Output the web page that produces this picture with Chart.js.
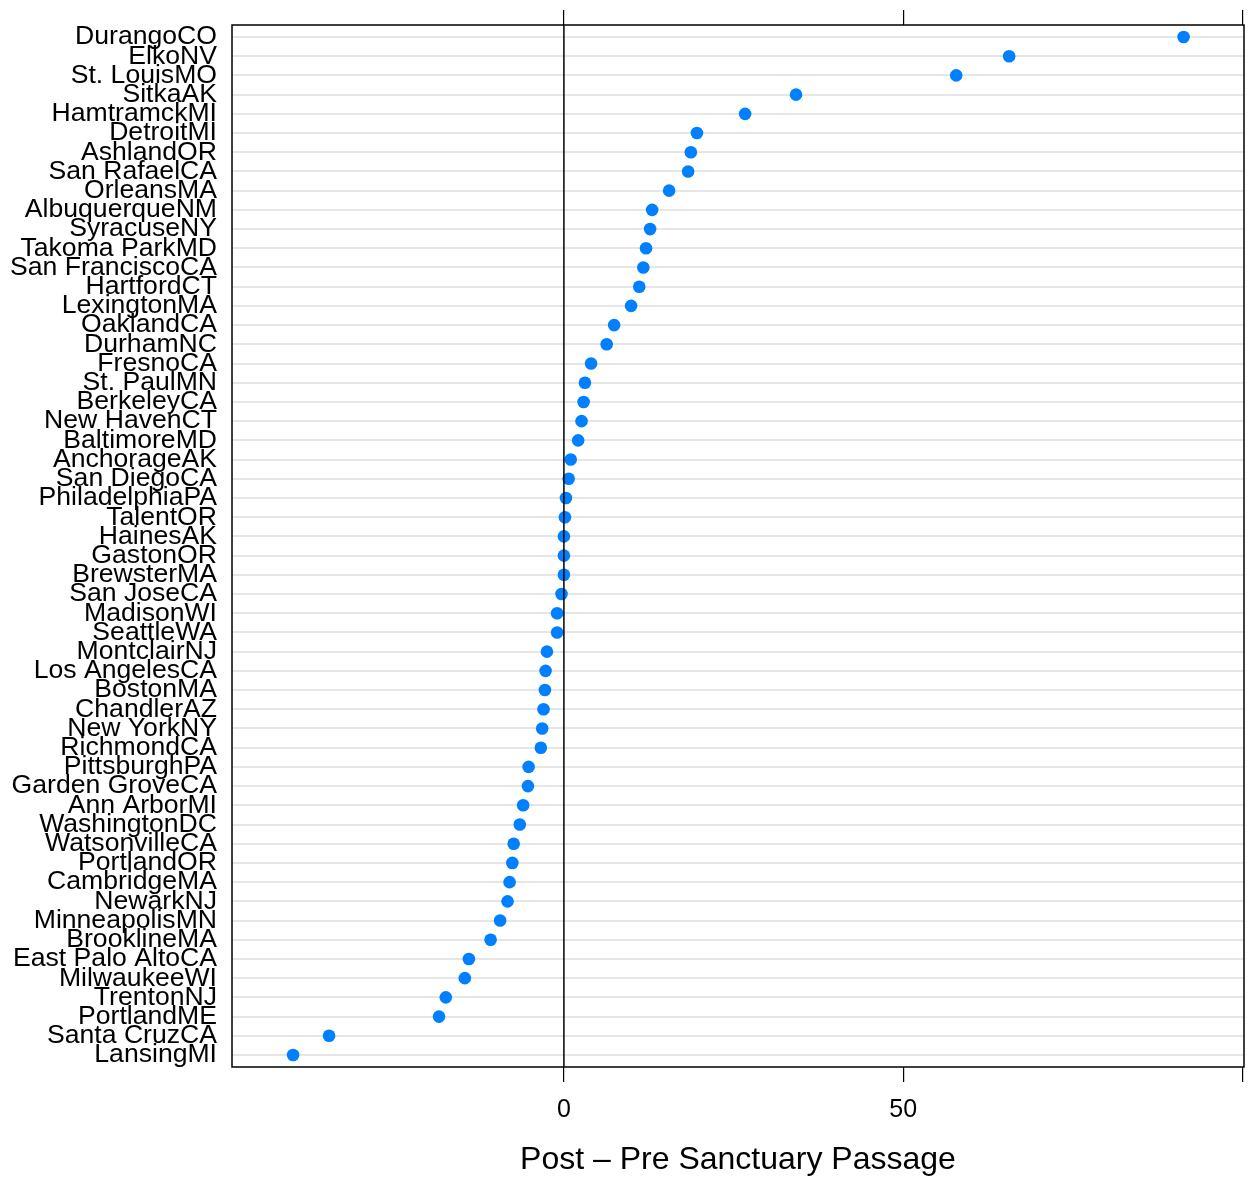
<!DOCTYPE html>
<html>
<head>
<meta charset="utf-8">
<script src="https://cdn.jsdelivr.net/npm/chart.js@4"></script>
<style>
  body { margin: 0; background: #fff; }
  #wrap { width: 1251px; height: 1178px; }
</style>
</head>
<body>
<div id="wrap"><canvas id="dotplot" width="1251" height="1178"></canvas></div>
<script>
// cities, top to bottom as they appear in the plot
const cities = [
  'DurangoCO', 'ElkoNV', 'St. LouisMO', 'SitkaAK', 'HamtramckMI', 'DetroitMI',
  'AshlandOR', 'San RafaelCA', 'OrleansMA', 'AlbuquerqueNM', 'SyracuseNY',
  'Takoma ParkMD', 'San FranciscoCA', 'HartfordCT', 'LexingtonMA', 'OaklandCA',
  'DurhamNC', 'FresnoCA', 'St. PaulMN', 'BerkeleyCA', 'New HavenCT', 'BaltimoreMD',
  'AnchorageAK', 'San DiegoCA', 'PhiladelphiaPA', 'TalentOR', 'HainesAK', 'GastonOR',
  'BrewsterMA', 'San JoseCA', 'MadisonWI', 'SeattleWA', 'MontclairNJ', 'Los AngelesCA',
  'BostonMA', 'ChandlerAZ', 'New YorkNY', 'RichmondCA', 'PittsburghPA', 'Garden GroveCA',
  'Ann ArborMI', 'WashingtonDC', 'WatsonvilleCA', 'PortlandOR', 'CambridgeMA', 'NewarkNJ',
  'MinneapolisMN', 'BrooklineMA', 'East Palo AltoCA', 'MilwaukeeWI', 'TrentonNJ',
  'PortlandME', 'Santa CruzCA', 'LansingMI'
];

// post - pre difference for each city
const diffs = [
  91.3, 65.6, 57.8, 34.2, 26.7, 19.6,
  18.7, 18.3, 15.5, 13.0, 12.7,
  12.1, 11.7, 11.1, 9.9, 7.4,
  6.3, 4.0, 3.1, 2.9, 2.6, 2.1,
  1.0, 0.7, 0.3, 0.15, 0.0, 0.0,
  0.0, -0.35, -1.0, -1.0, -2.5, -2.7,
  -2.8, -3.0, -3.2, -3.4, -5.2, -5.3,
  -6.0, -6.5, -7.4, -7.6, -8.0, -8.3,
  -9.4, -10.8, -14.0, -14.6, -17.4,
  -18.4, -34.6, -39.9
];

const xTickValues = [0, 50, 100];
const xTickLabels = ['0', '50', ''];

const points = diffs.map((v, i) => ({ x: v, y: i }));

const frameAndZero = {
  id: 'frameAndZero',
  afterDatasetsDraw(chart) {
    const { ctx, chartArea, scales } = chart;
    const x0 = scales.x.getPixelForValue(0);
    ctx.save();
    ctx.strokeStyle = '#000';
    ctx.lineWidth = 1.5;
    ctx.beginPath();
    ctx.moveTo(x0, chartArea.top);
    ctx.lineTo(x0, chartArea.bottom);
    ctx.stroke();
    ctx.strokeRect(chartArea.left, chartArea.top,
      chartArea.right - chartArea.left, chartArea.bottom - chartArea.top);
    ctx.restore();
  }
};

const tickSetter = axis => {
  axis.ticks = xTickValues.map(v => ({ value: v }));
};

new Chart(document.getElementById('dotplot'), {
  type: 'scatter',
  data: {
    datasets: [{
      data: points,
      backgroundColor: '#0080ff',
      borderWidth: 0,
      pointRadius: 6.3,
      pointHoverRadius: 6.3
    }]
  },
  options: {
    responsive: false,
    animation: false,
    layout: { padding: { left: 0, right: 7, top: 0, bottom: 0 } },
    plugins: { legend: { display: false }, tooltip: { enabled: false } },
    scales: {
      x: {
        type: 'linear',
        position: 'bottom',
        min: -48.9,
        max: 100.2,
        afterBuildTicks: tickSetter,
        afterFit: s => { s.height = 111; s.paddingLeft = 0; s.paddingRight = 0; },
        grid: { drawOnChartArea: false, drawTicks: true, tickLength: 15, color: '#000', lineWidth: 1.2 },
        border: { display: false },
        ticks: {
          color: '#000',
          font: { family: 'Liberation Sans, Arial, sans-serif', size: 25 },
          padding: 13,
          maxRotation: 0,
          autoSkip: false,
          callback: v => xTickLabels[xTickValues.indexOf(v)]
        },
        title: {
          display: true,
          text: 'Post \u2013 Pre Sanctuary Passage',
          color: '#000',
          font: { family: 'Liberation Sans, Arial, sans-serif', size: 32, lineHeight: 1.1 },
          padding: { top: 0, bottom: 0 }
        }
      },
      x2: {
        type: 'linear',
        position: 'top',
        min: -48.9,
        max: 100.2,
        afterBuildTicks: tickSetter,
        afterFit: s => { s.height = 25; s.paddingLeft = 0; s.paddingRight = 0; },
        grid: { drawOnChartArea: false, drawTicks: true, tickLength: 15, color: '#000', lineWidth: 1.2 },
        border: { display: false },
        ticks: { display: false }
      },
      y: {
        type: 'linear',
        reverse: true,
        min: -0.625,
        max: 53.625,
        afterBuildTicks: axis => { axis.ticks = cities.map((c, i) => ({ value: i })); },
        afterFit: s => { s.width = 232; s.paddingTop = 0; s.paddingBottom = 0; },
        grid: { color: '#e6e6e6', lineWidth: 2, drawTicks: false },
        border: { display: false },
        ticks: {
          color: '#000',
          autoSkip: false,
          padding: 15,
          font: { family: 'Liberation Sans, Arial, sans-serif', size: 26.6 },
          callback: v => cities[v]
        }
      }
    }
  },
  plugins: [frameAndZero]
});
</script>
</body>
</html>
